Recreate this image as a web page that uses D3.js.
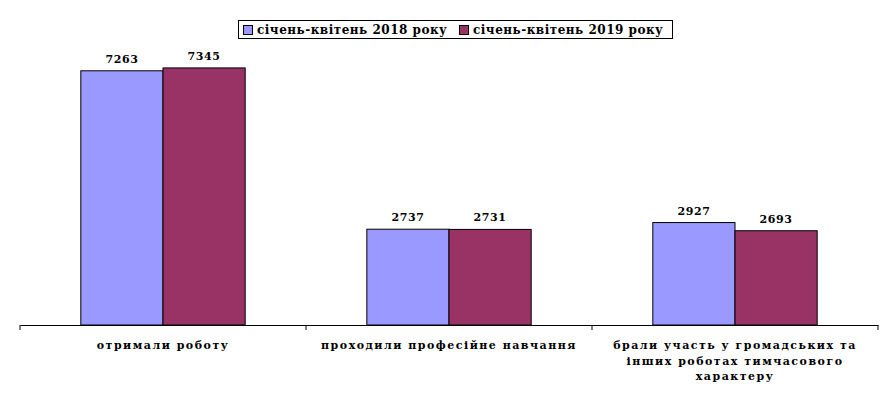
<!DOCTYPE html>
<html>
<head>
<meta charset="utf-8">
<script src="https://cdn.jsdelivr.net/npm/d3@7"></script>
<style>
body { margin: 0; background: #fff; }
</style>
</head>
<body>
<div id="chart"></div>
<script>
var categories = ["отримали роботу", "проходили професійне навчання", "брали участь у громадських та іншиx роботах тимчасового характеру"];
var categoryLines = [["отримали роботу"], ["проходили професійне навчання"], ["брали участь у громадських та", "інших роботах тимчасового", "характеру"]];
var seriesNames = ["січень-квітень 2018 року", "січень-квітень 2019 року"];
var values2018 = [7263, 2737, 2927];
var values2019 = [7345, 2731, 2693];
var colors = ["#9999ff", "#993366"];

var W = 892, H = 395;
var svg = d3.select("#chart").append("svg")
	.attr("width", W)
	.attr("height", H)
	.attr("font-family", "'DejaVu Serif', serif")
	.attr("font-weight", "bold");

var x = d3.scaleBand()
	.domain(d3.range(categories.length))
	.range([20, 878]);

var xs = d3.scaleBand()
	.domain([0, 1])
	.range([0, x.bandwidth()])
	.paddingInner(0)
	.paddingOuter(0.74);

var y = d3.scaleLinear()
	.domain([0, 8000])
	.range([325, 45]);

var series = [values2018, values2019];

// bars
series.forEach(function(vals, s){
	svg.append("g").selectAll("rect")
		.data(vals)
		.enter().append("rect")
		.attr("x", function(d, i){ return x(i) + xs(s); })
		.attr("y", function(d){ return y(d); })
		.attr("width", xs.bandwidth())
		.attr("height", function(d){ return y(0) - y(d); })
		.attr("fill", colors[s])
		.attr("stroke", "#000")
		.attr("stroke-width", 1);

	svg.append("g").selectAll("text")
		.data(vals)
		.enter().append("text")
		.attr("x", function(d, i){ return x(i) + xs(s) + xs.bandwidth() / 2; })
		.attr("y", function(d){ return y(d) - 8; })
		.attr("text-anchor", "middle")
		.attr("font-size", 11)
		.attr("letter-spacing", 0.6)
		.text(function(d){ return d; });
});

// axis
var axis = d3.axisBottom(x)
	.tickValues([])
	.tickSizeOuter(0);
var ag = svg.append("g")
	.attr("transform", "translate(0," + y(0) + ")")
	.call(axis);
ag.select(".domain").attr("stroke", "#000");

var tickPos = d3.range(categories.length + 1).map(function(i){
	return i < categories.length ? x(i) : x(i - 1) + x.bandwidth();
});
ag.selectAll("line.tk")
	.data(tickPos)
	.enter().append("line")
	.attr("class", "tk")
	.attr("x1", function(d){ return d; })
	.attr("x2", function(d){ return d; })
	.attr("y1", 0)
	.attr("y2", 5)
	.attr("stroke", "#000");

// category labels
categoryLines.forEach(function(lines, i){
	var t = svg.append("text")
		.attr("text-anchor", "middle")
		.attr("font-size", 11)
		.attr("letter-spacing", 1.5);
	lines.forEach(function(l, j){
		t.append("tspan")
			.attr("x", x(i) + x.bandwidth() / 2)
			.attr("y", 349 + j * 15.5)
			.text(l);
	});
});

// legend
var lg = svg.append("g");
lg.append("rect")
	.attr("x", 238.5)
	.attr("y", 20.5)
	.attr("width", 434)
	.attr("height", 18)
	.attr("fill", "#fff")
	.attr("stroke", "#000");
var legX = [243, 459];
seriesNames.forEach(function(n, s){
	lg.append("rect")
		.attr("x", legX[s] + 0.5)
		.attr("y", 25.5)
		.attr("width", 9)
		.attr("height", 9)
		.attr("fill", colors[s])
		.attr("stroke", "#000");
	lg.append("text")
		.attr("x", legX[s] + 14)
		.attr("y", 34)
		.attr("font-size", 12)
		.attr("letter-spacing", 0.5)
		.text(n);
});
</script>
</body>
</html>
